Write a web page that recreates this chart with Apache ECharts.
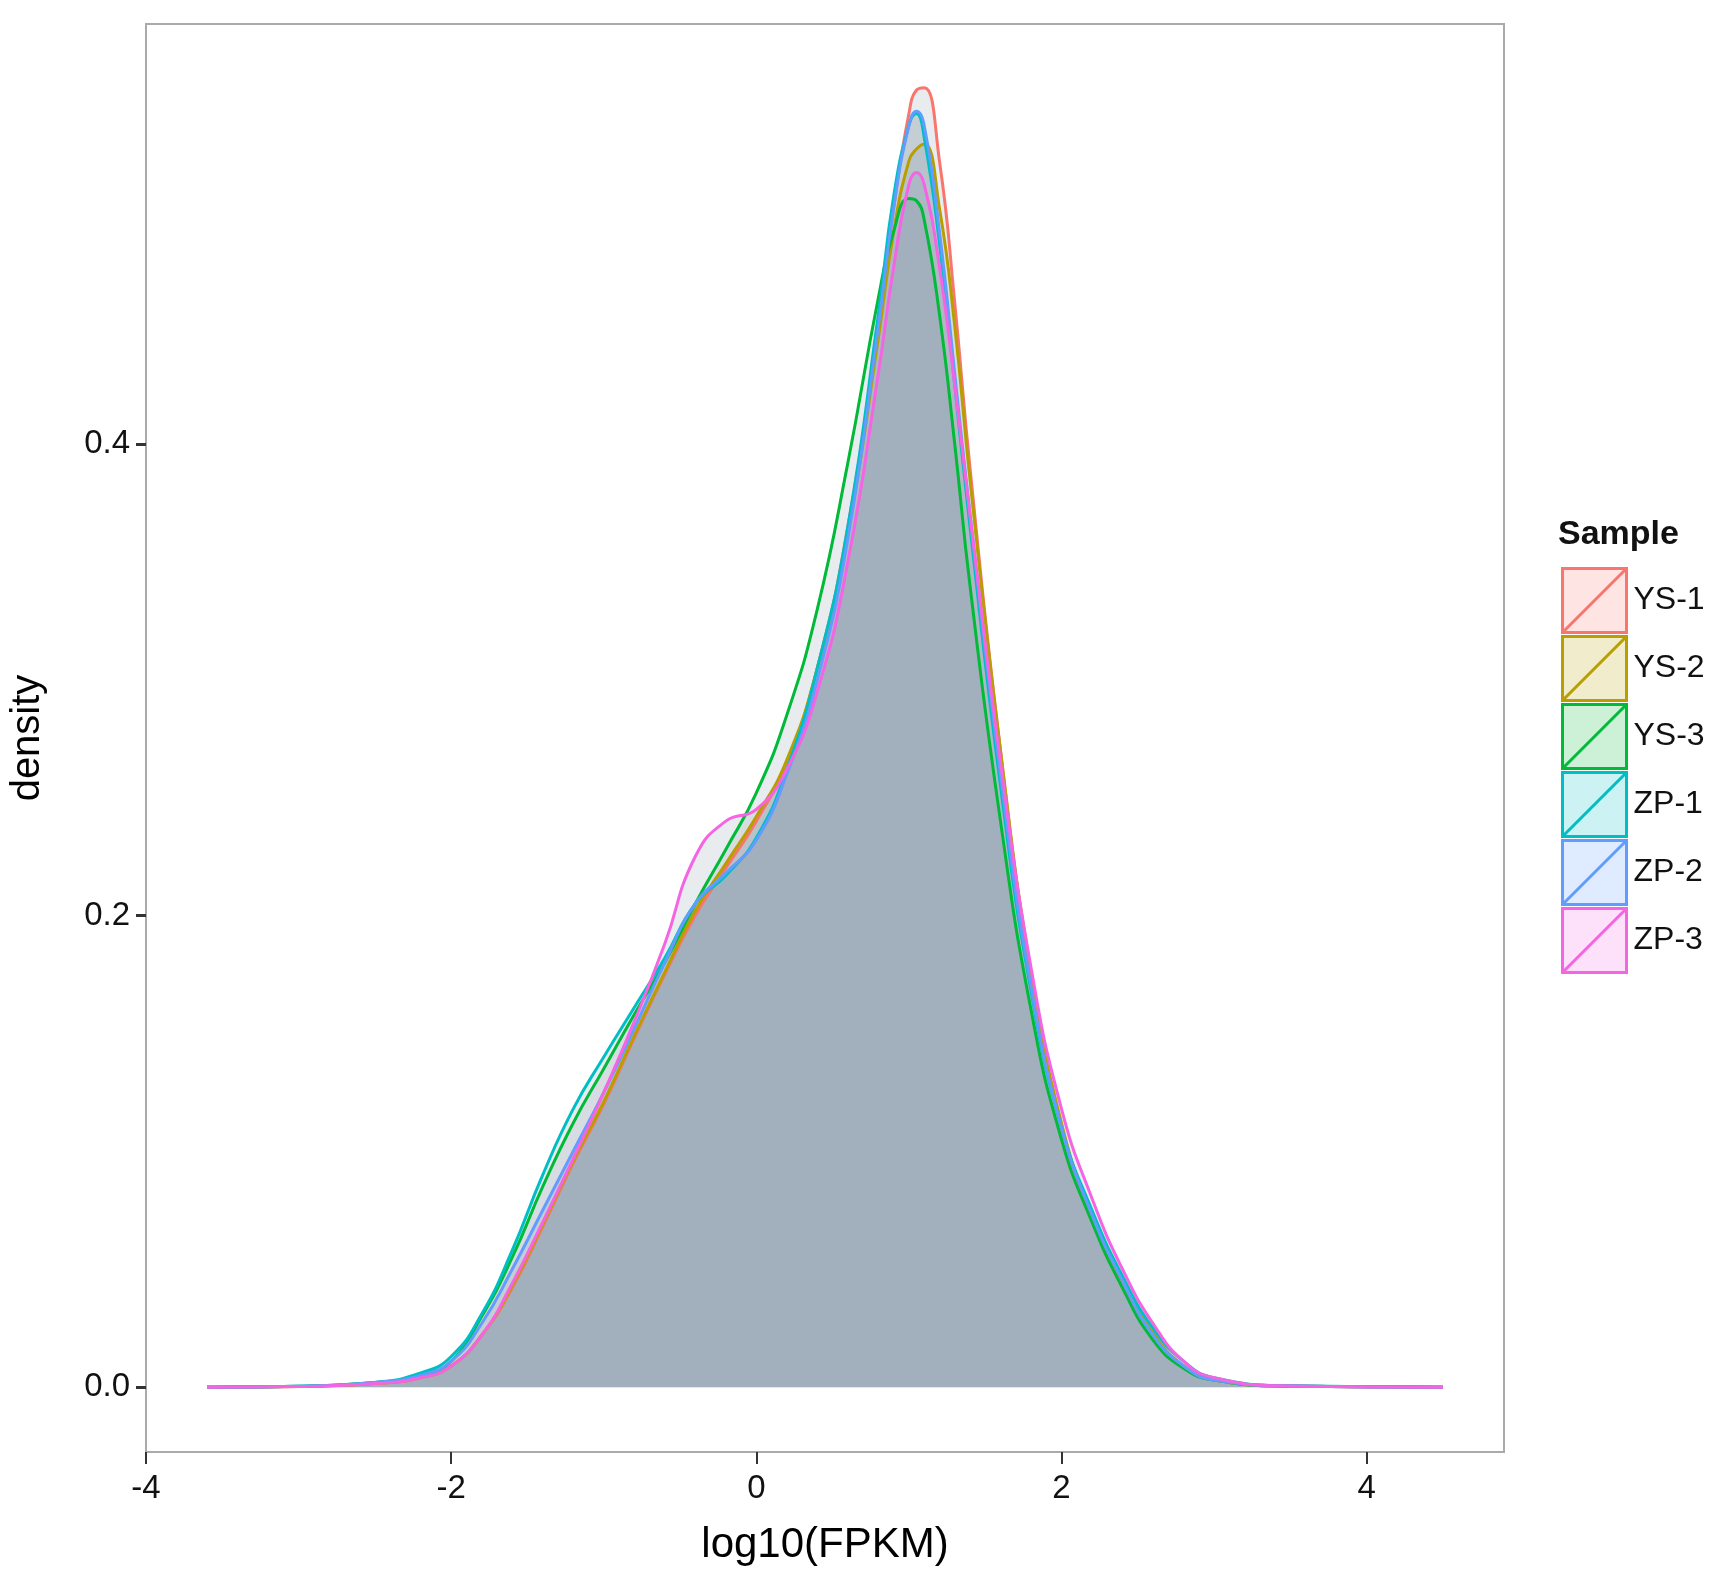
<!DOCTYPE html>
<html><head><meta charset="utf-8">
<script src="https://cdn.jsdelivr.net/npm/echarts@6/dist/echarts.min.js"></script>
<style>html,body{margin:0;padding:0;background:#fff}#chart{width:1725px;height:1586px}</style>
</head><body><div id="chart"></div>
<script>
var samples = ['YS-1', 'YS-2', 'YS-3', 'ZP-1', 'ZP-2', 'ZP-3'];
var colors = ['#F8766D', '#B79F00', '#00BA38', '#00BFC4', '#619CFF', '#F564E3'];
var fills = ['rgba(248,118,109,0.2)', 'rgba(183,159,0,0.2)', 'rgba(0,186,56,0.2)', 'rgba(0,191,196,0.2)', 'rgba(97,156,255,0.2)', 'rgba(245,100,227,0.2)'];
var xs = [-3.6,-3,-2.5,-2.2,-2,-1.8,-1.6,-1.4,-1.2,-1,-0.8,-0.6,-0.4,-0.2,0,0.2,0.4,0.6,0.8,0.9,1,1.05,1.1,1.2,1.3,1.4,1.6,1.8,2,2.2,2.4,2.6,2.8,3,3.5,4.5];
var ys1 = [0,0.0003,0.0015,0.004,0.009,0.022,0.042,0.068,0.095,0.12,0.148,0.175,0.2,0.22,0.24,0.265,0.305,0.365,0.45,0.5,0.54,0.55,0.551,0.52,0.46,0.39,0.27,0.175,0.11,0.072,0.044,0.022,0.009,0.003,0.0004,0];
var ys2 = [0,0.0003,0.0015,0.004,0.009,0.022,0.043,0.069,0.096,0.121,0.149,0.176,0.202,0.222,0.242,0.266,0.305,0.362,0.445,0.49,0.52,0.525,0.527,0.5,0.45,0.385,0.27,0.176,0.112,0.073,0.045,0.023,0.009,0.003,0.0004,0];
var ys3 = [0,0.0004,0.002,0.005,0.011,0.03,0.055,0.085,0.112,0.135,0.158,0.18,0.205,0.228,0.252,0.285,0.33,0.392,0.462,0.49,0.504,0.503,0.495,0.455,0.4,0.34,0.24,0.16,0.105,0.07,0.042,0.02,0.008,0.003,0.0004,0];
var zp1 = [0,0.0004,0.002,0.006,0.013,0.031,0.058,0.09,0.118,0.14,0.161,0.182,0.205,0.217,0.233,0.262,0.305,0.365,0.455,0.505,0.535,0.54,0.53,0.485,0.425,0.365,0.255,0.168,0.11,0.075,0.047,0.025,0.011,0.004,0.0006,0];
var zp2 = [0,0.0004,0.002,0.005,0.011,0.027,0.05,0.075,0.1,0.125,0.152,0.18,0.205,0.218,0.232,0.26,0.3,0.36,0.45,0.5,0.535,0.541,0.535,0.49,0.43,0.37,0.26,0.17,0.11,0.073,0.045,0.022,0.009,0.003,0.0005,0];
var zp3 = [0,0.0003,0.0015,0.004,0.009,0.022,0.044,0.07,0.097,0.125,0.155,0.188,0.225,0.24,0.245,0.262,0.295,0.35,0.43,0.475,0.51,0.515,0.51,0.475,0.425,0.37,0.265,0.178,0.118,0.08,0.05,0.027,0.011,0.004,0.0005,0];
var xTicks = [-4, -2, 0, 2, 4];
var yTicks = [0, 0.2, 0.4];

var allY = [ys1, ys2, ys3, zp1, zp2, zp3];
var font = 'Liberation Sans, Arial, sans-serif';
var chart = echarts.init(document.getElementById('chart'));

var series = samples.map(function (name, i) {
	return {
		name: name,
		type: 'line',
		smooth: 0.5,
		symbol: 'none',
		data: xs.map(function (x, j) { return [x, allY[i][j]]; }),
		lineStyle: { color: colors[i], width: 3 },
		itemStyle: { color: colors[i] },
		areaStyle: { color: 'rgba(110,130,150,0.22)', origin: 0 }
	};
});

chart.setOption({
	animation: false,
	backgroundColor: '#fff',
	grid: { left: 146, right: 221, top: 24, bottom: 134, show: true, borderColor: '#aaa', borderWidth: 2 },
	xAxis: {
		type: 'value', min: -4, max: 4.9,
		name: 'log10(FPKM)', nameLocation: 'middle', nameGap: 72,
		nameTextStyle: { fontSize: 42, color: '#000', fontFamily: font },
		splitLine: { show: false },
		axisLine: { show: false, onZero: false },
		axisTick: { show: true, length: 12, customValues: xTicks, lineStyle: { color: '#333', width: 2 } },
		axisLabel: { customValues: xTicks, fontSize: 33, color: '#111', margin: 20, fontFamily: font }
	},
	yAxis: {
		type: 'value', min: -0.0275, max: 0.578,
		name: 'density', nameLocation: 'middle', nameGap: 98,
		nameTextStyle: { fontSize: 40, color: '#000', fontFamily: font },
		splitLine: { show: false },
		axisLine: { show: false, onZero: false },
		axisTick: { show: true, length: 10, customValues: yTicks, lineStyle: { color: '#333', width: 3 } },
		axisLabel: { customValues: yTicks, fontSize: 33, color: '#111', margin: 16, fontFamily: font,
			formatter: function (v) { return v.toFixed(1); } }
	},
	legend: {
		orient: 'vertical', left: 1556, top: 562,
		itemWidth: 64, itemHeight: 64, itemGap: 1, align: 'left',
		icon: 'path://M0,0H10V10H0ZM0,10L10,0',
		textStyle: { fontSize: 32, color: '#111', fontFamily: font, padding: [0, 0, 0, 2] },
		data: samples.map(function (name, i) {
			return { name: name, itemStyle: { color: fills[i], borderColor: colors[i], borderWidth: 3 } };
		})
	},
	graphic: [{
		type: 'text', left: 1558, top: 518,
		style: { text: 'Sample', fontSize: 34, fontWeight: 'bold', fill: '#111', fontFamily: font }
	}],
	series: series
});
</script></body></html>
